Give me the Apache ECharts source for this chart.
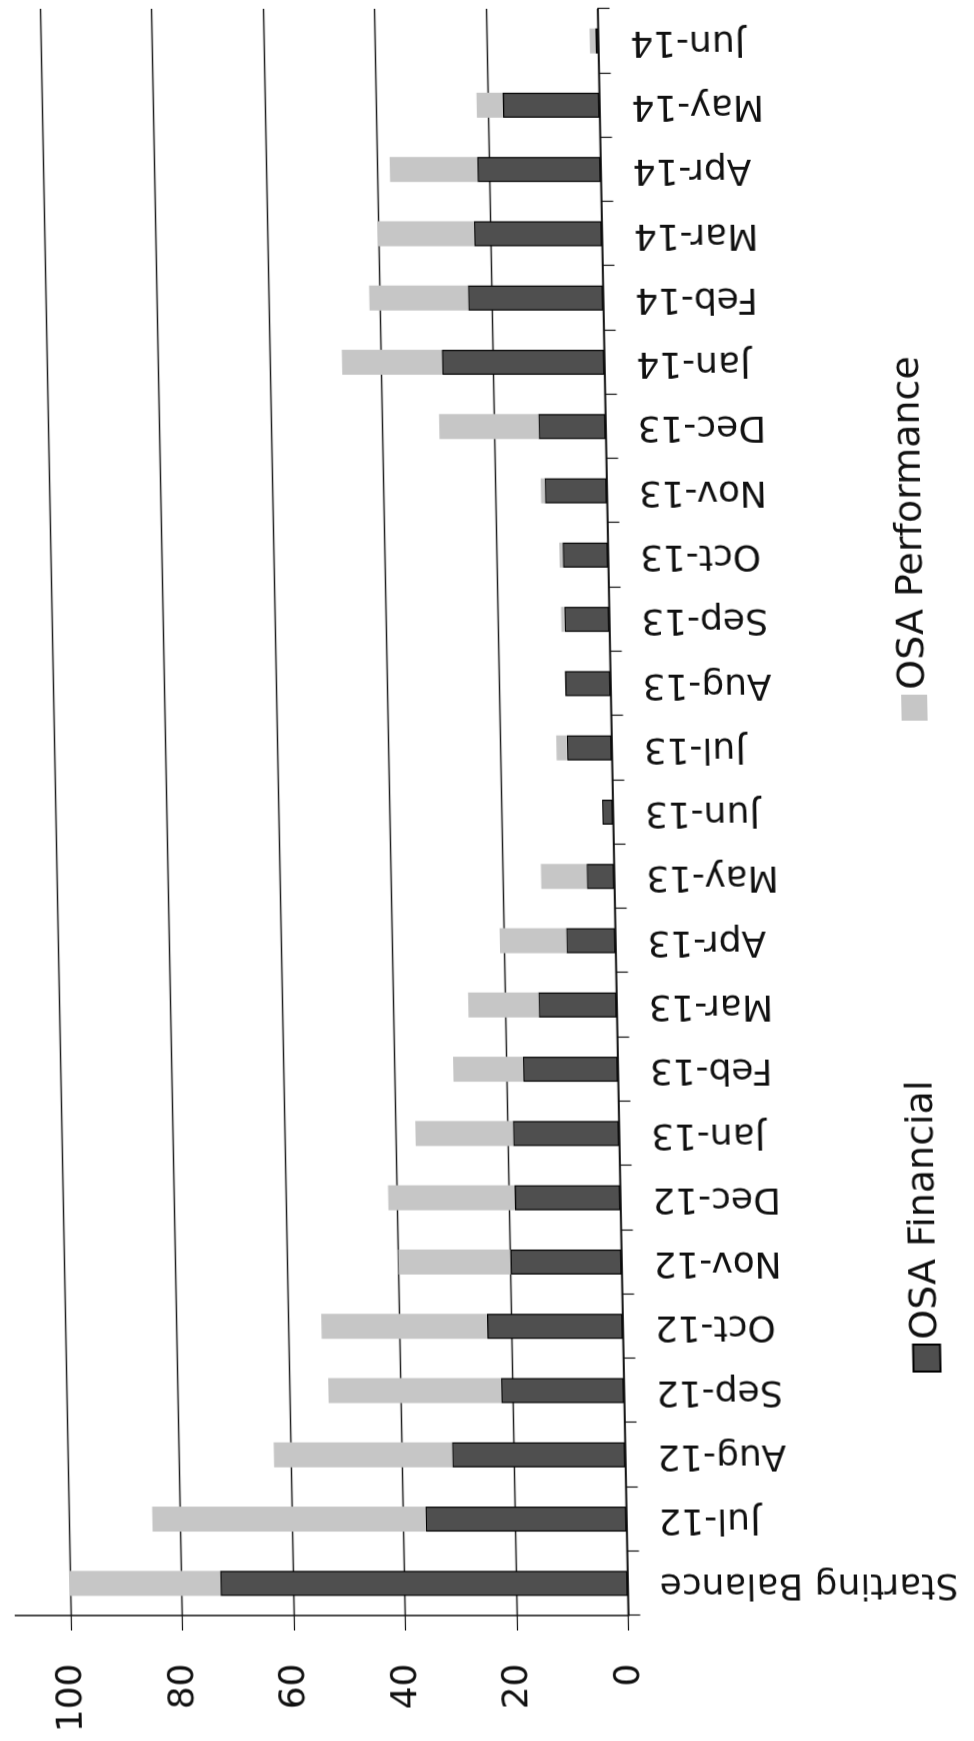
<!DOCTYPE html>
<html>
<head>
<meta charset="utf-8">
<script src="https://cdn.jsdelivr.net/npm/echarts@6/dist/echarts.min.js"></script>
<style>
  html, body { margin: 0; padding: 0; background: #fff; width: 974px; height: 1741px; overflow: hidden; }
  #wrap {
    position: absolute;
    width: 1741px; height: 974px;
    left: -383.5px; top: 383.5px;
    transform-origin: 870.5px 487px;
    transform: skewX(1.094deg) rotate(-90deg);
    background: #fff;
  }
</style>
</head>
<body>
<div id="wrap"></div>
<script>
const categories = ['Starting Balance','Jul-12','Aug-12','Sep-12','Oct-12','Nov-12','Dec-12','Jan-13','Feb-13','Mar-13','Apr-13','May-13','Jun-13','Jul-13','Aug-13','Sep-13','Oct-13','Nov-13','Dec-13','Jan-14','Feb-14','Mar-14','Apr-14','May-14','Jun-14'];
const osaFinancial   = [73, 36, 31, 22, 24.3, 19.9, 18.9, 19, 17, 14, 8.8, 4.9, 1.9, 8, 8.1, 8, 8.1, 11.1, 12, 29.1, 24.2, 22.9, 22.1, 17.3, 0.5];
const osaPerformance = [27, 49, 32, 31, 29.7, 20.1, 22.7, 17.5, 12.5, 12.6, 11.9, 8.2, 0, 1.9, 0, 0.6, 0.6, 0.7, 17.8, 17.9, 17.7, 17.2, 15.7, 4.7, 1.0];
const valueTicks = [0, 20, 40, 60, 80, 100];

const FONT = 'DejaVu Sans';
const chart = echarts.init(document.getElementById('wrap'), null, { width: 1741, height: 974, renderer: 'canvas' });
chart.setOption({
  animation: false,
  backgroundColor: '#fff',
  grid: { left: 126, right: 8, top: -3, bottom: 360.5, containLabel: false },
  legend: [
    { data: ['OSA Financial'], left: 369, top: 894, padding: 0, itemWidth: 27, itemHeight: 27, icon: 'rect',
      textStyle: { fontSize: 38, fontFamily: FONT, color: '#111', lineHeight: 46 } },
    { data: ['OSA Performance'], left: 1021, top: 894, padding: 0, itemWidth: 26, itemHeight: 26, icon: 'rect',
      textStyle: { fontSize: 38, fontFamily: FONT, color: '#111', lineHeight: 46 } }
  ],
  xAxis: {
    type: 'category',
    data: categories,
    boundaryGap: true,
    axisLine: { show: true, lineStyle: { color: '#111', width: 1.5 } },
    axisTick: { show: true, length: 12, lineStyle: { color: '#111', width: 1.2 } },
    axisLabel: { rotate: 90, margin: 32, fontSize: 36, fontFamily: FONT, color: '#111', interval: 0 },
    splitLine: { show: false }
  },
  yAxis: {
    type: 'value',
    min: valueTicks[0],
    max: 110,
    interval: valueTicks[1] - valueTicks[0],
    axisLine: { show: true, lineStyle: { color: '#111', width: 1.5 } },
    axisTick: { show: true, length: 15, lineStyle: { color: '#111', width: 1.2 } },
    axisLabel: { showMaxLabel: false, margin: 48, fontSize: 36, fontFamily: FONT, color: '#111',
      formatter: v => (valueTicks.indexOf(v) >= 0 ? String(v) : '') },
    splitLine: { show: true, showMaxLine: false, lineStyle: { color: '#222', width: 1.3 } }
  },
  series: [
    { name: 'OSA Financial', type: 'bar', stack: 'total', barWidth: 25, data: osaFinancial,
      itemStyle: { color: '#4f4f4f', borderColor: '#000', borderWidth: 1.2 } },
    { name: 'OSA Performance', type: 'bar', stack: 'total', barWidth: 25, data: osaPerformance,
      itemStyle: { color: '#c6c6c6' } }
  ]
});
</script>
</body>
</html>
